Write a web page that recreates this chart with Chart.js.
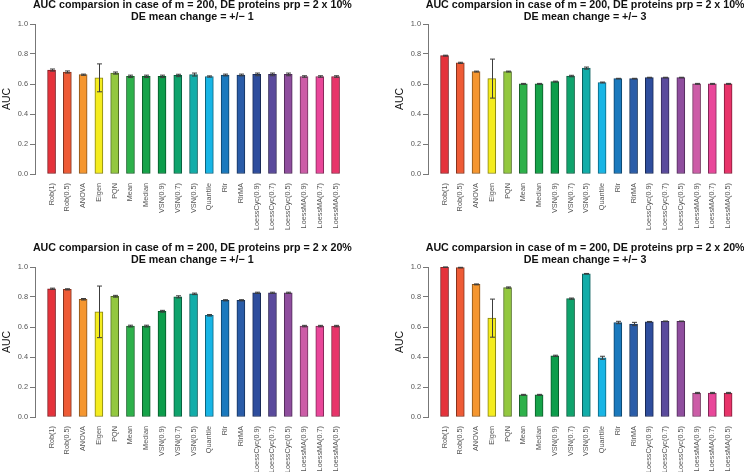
<!DOCTYPE html>
<html>
<head>
<meta charset="utf-8">
<script src="https://cdn.jsdelivr.net/npm/chart.js@4.4.0/dist/chart.umd.min.js"></script>
<style>
  html, body { margin: 0; padding: 0; background: #fff; overflow: hidden; }
  #wrap { position: relative; width: 744px; height: 472px; }
  canvas { position: absolute; }
</style>
</head>
<body>
<div id="wrap">
  <canvas id="p1" width="372" height="236" style="left:0;top:0"></canvas>
  <canvas id="p2" width="372" height="236" style="left:372px;top:0"></canvas>
  <canvas id="p3" width="372" height="236" style="left:0;top:236px"></canvas>
  <canvas id="p4" width="372" height="236" style="left:372px;top:236px"></canvas>
</div>
<script>
const methods = ['Rob(1)', 'Rob(0.5)', 'ANOVA', 'Eigen', 'PQN', 'Mean', 'Median',
  'VSN(0.9)', 'VSN(0.7)', 'VSN(0.5)', 'Quantile', 'Rlr', 'RlrMA',
  'LoessCyc(0.9)', 'LoessCyc(0.7)', 'LoessCyc(0.5)',
  'LoessMA(0.9)', 'LoessMA(0.7)', 'LoessMA(0.5)'];

const barColors = ['#e5323b', '#ee5b36', '#f5962f', '#f4ec1f', '#93c83f', '#2db14a', '#16a349',
  '#0c9d4b', '#0fa36c', '#12ada9', '#18b5e5', '#1a79bd', '#2a5ca8',
  '#2e4d9d', '#5a4a9c', '#8f4e9e', '#cc5da7', '#e9479a', '#e8346a'];

// prp 10%, mean change +/- 1
const auc10m1 = [0.693, 0.680, 0.662, 0.641, 0.673, 0.651, 0.651, 0.651, 0.657, 0.663, 0.650, 0.660, 0.660, 0.664, 0.664, 0.664, 0.650, 0.650, 0.650];
const err10m1 = [0.007, 0.007, 0.004, 0.093, 0.007, 0.008, 0.008, 0.008, 0.008, 0.010, 0.004, 0.006, 0.006, 0.009, 0.009, 0.009, 0.005, 0.005, 0.005];
// prp 10%, mean change +/- 3
const auc10m3 = [0.789, 0.741, 0.683, 0.636, 0.683, 0.601, 0.601, 0.616, 0.653, 0.706, 0.610, 0.636, 0.636, 0.643, 0.643, 0.643, 0.601, 0.601, 0.601];
const err10m3 = [0.003, 0.004, 0.003, 0.130, 0.003, 0.003, 0.003, 0.003, 0.005, 0.007, 0.003, 0.002, 0.002, 0.002, 0.002, 0.002, 0.003, 0.003, 0.003];
// prp 20%, mean change +/- 1
const auc20m1 = [0.855, 0.851, 0.785, 0.701, 0.805, 0.606, 0.606, 0.705, 0.801, 0.821, 0.678, 0.778, 0.778, 0.828, 0.828, 0.828, 0.606, 0.606, 0.606];
const err20m1 = [0.004, 0.004, 0.005, 0.172, 0.006, 0.006, 0.006, 0.006, 0.007, 0.005, 0.005, 0.004, 0.004, 0.004, 0.004, 0.004, 0.005, 0.005, 0.005];
// prp 20%, mean change +/- 3
const auc20m3 = [0.999, 0.996, 0.884, 0.659, 0.863, 0.148, 0.148, 0.408, 0.789, 0.955, 0.395, 0.630, 0.620, 0.635, 0.638, 0.638, 0.160, 0.160, 0.160];
const err20m3 = [0.001, 0.002, 0.003, 0.127, 0.004, 0.003, 0.003, 0.004, 0.004, 0.002, 0.010, 0.008, 0.011, 0.002, 0.002, 0.002, 0.004, 0.004, 0.004];

const yTicks = [0, 0.2, 0.4, 0.6, 0.8, 1.0];

Chart.defaults.font.family = '"Liberation Sans", Arial, sans-serif';

function darken(hex, f) {
    const n = parseInt(hex.slice(1), 16);
    const r = Math.round(((n >> 16) & 255) * f);
    const g = Math.round(((n >> 8) & 255) * f);
    const b = Math.round((n & 255) * f);
    return `rgb(${r},${g},${b})`;
}

// draws the +/- error whiskers on top of the bars
const errorBars = {
    id: 'errorBars',
    afterDatasetsDraw(chart) {
        const { ctx, scales: { y } } = chart;
        const ds = chart.data.datasets[0];
        const meta = chart.getDatasetMeta(0);
        ctx.save();
        ctx.strokeStyle = '#3c3c3c';
        ctx.lineWidth = 1;
        meta.data.forEach((bar, i) => {
            const v = ds.data[i].y;
            const e = ds.errors[i];
            const px = Math.round(bar.x) + 0.5;
            const top = y.getPixelForValue(v + e);
            const bot = y.getPixelForValue(v - e);
            ctx.beginPath();
            ctx.moveTo(px, top); ctx.lineTo(px, bot);
            ctx.moveTo(px - 2.5, top); ctx.lineTo(px + 2.5, top);
            ctx.moveTo(px - 2.5, bot); ctx.lineTo(px + 2.5, bot);
            ctx.stroke();
        });
        ctx.restore();
    }
};

// center the title over the bar region like R does
const titleSpan = {
    id: 'titleSpan',
    afterLayout(chart) {
        const x = chart.scales.x;
        const c = (chart.chartArea.left + x.getPixelForValue(18.9)) / 2;
        chart.titleBlock.left = c - 200;
        chart.titleBlock.right = c + 200;
    }
};

function makePanel(id, prp, change, values, errors, axisLeft, xMax, titleTop, bottomH) {
    new Chart(document.getElementById(id), {
        type: 'bar',
        data: {
            datasets: [{
                data: values.map((v, i) => ({ x: i, y: v })),
                errors: errors,
                backgroundColor: barColors,
                borderColor: barColors.map(c => darken(c, 0.55)),
                borderWidth: 1,
                borderSkipped: false,
                barThickness: 8
            }]
        },
        options: {
            responsive: false,
            animation: false,
            layout: { padding: 0 },
            plugins: {
                legend: { display: false },
                tooltip: { enabled: false },
                title: {
                    display: true,
                    text: [`AUC comparsion in case of m = 200, DE proteins prp = 2 x ${prp}%`,
                           `DE mean change = +/\u2212 ${change}`],
                    color: '#111',
                    font: { size: 10.7, weight: 'bold', lineHeight: '12px' },
                    padding: { top: titleTop, bottom: titleTop > 0 ? 0.5 : 1 }
                }
            },
            scales: {
                x: {
                    type: 'linear',
                    offset: false,
                    min: -1.05,
                    max: xMax,
                    afterFit(s) {
                        s.height = bottomH;
                        s.paddingLeft = 0;
                        s.paddingRight = 0;
                    },
                    border: { display: false },
                    grid: { display: false, drawTicks: false },
                    ticks: {
                        stepSize: 1,
                        autoSkip: false,
                        includeBounds: false,
                        maxRotation: 90,
                        minRotation: 90,
                        padding: 9,
                        color: '#555',
                        font: { size: 7.3 },
                        callback: v => methods[v] ?? ''
                    }
                },
                y: {
                    min: 0,
                    max: 1,
                    afterFit(s) {
                        s.width = axisLeft;
                        s.paddingTop = 0;
                        s.paddingBottom = 0;
                    },
                    afterBuildTicks(s) { s.ticks = yTicks.map(v => ({ value: v })); },
                    border: { display: true, color: '#777', width: 1 },
                    grid: { display: true, drawOnChartArea: false, drawTicks: true, tickLength: 5, color: '#777' },
                    ticks: {
                        padding: 2,
                        color: '#555',
                        font: { size: 7.4 },
                        callback: v => v.toFixed(1)
                    },
                    title: {
                        display: true,
                        text: 'AUC',
                        color: '#111',
                        font: { size: 10.5 },
                        padding: { top: axisLeft - 28 - 6.3, bottom: 0 }
                    }
                }
            }
        },
        plugins: [errorBars, titleSpan]
    });
}

makePanel('p1', 10, 1, auc10m1, err10m1, 35, 20.31, -1, 62);
makePanel('p2', 10, 3, auc10m3, err10m3, 56, 19.01, -1, 62);
makePanel('p3', 20, 1, auc20m1, err20m1, 35, 20.31, 6.5, 55);
makePanel('p4', 20, 3, auc20m3, err20m3, 56, 19.01, 6.5, 55);
</script>
</body>
</html>
